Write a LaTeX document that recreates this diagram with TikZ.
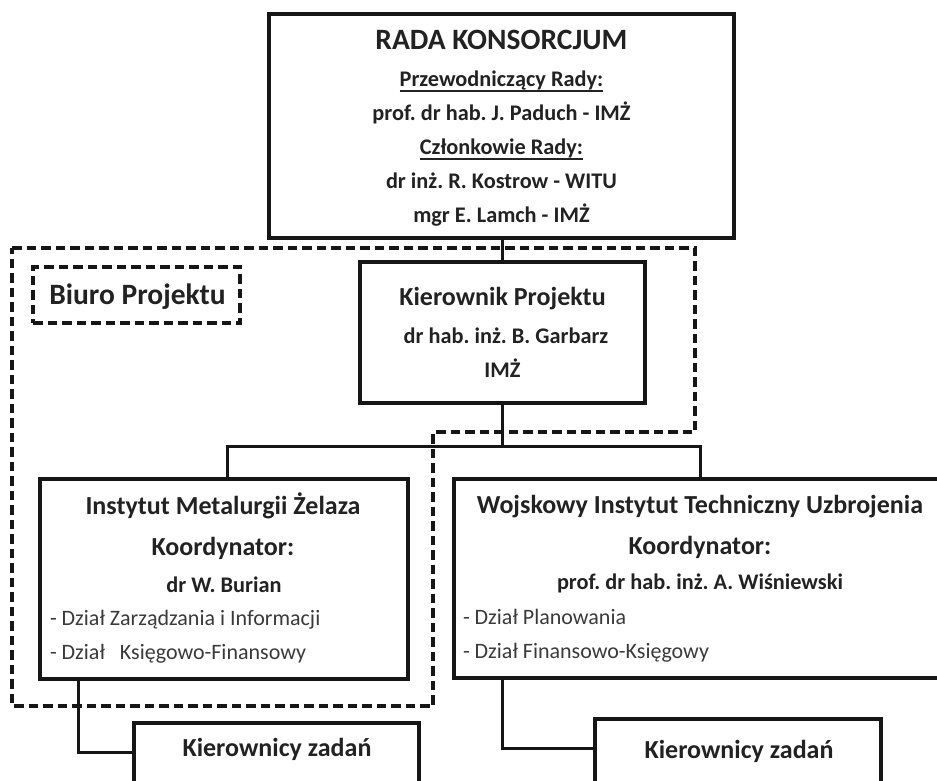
\documentclass[tikz,border=0pt]{standalone}
\usepackage{fontspec}
\setmainfont{Carlito}
\usetikzlibrary{shadows}
\definecolor{ink}{HTML}{222222}
\definecolor{ink2}{HTML}{3A3A3A}
\definecolor{lineink}{HTML}{161616}
\frenchspacing
\begin{document}
\begin{tikzpicture}[x=1pt,y=-1pt,
  box/.style={draw=lineink, line width=4.8pt, fill=white, rectangle, outer sep=0pt, inner sep=0pt, anchor=north west,
    drop shadow={shadow xshift=2pt, shadow yshift=-2pt, opacity=0.3, fill=black}},
  conn/.style={draw=lineink, line width=3pt},
  frame/.style={draw=lineink, line width=3.4pt, dash pattern=on 9.5pt off 5pt},
  txt/.style={inner sep=0pt, outer sep=0pt, anchor=base, text=ink},
  tA/.style={txt, font=\bfseries\fontsize{29.5}{34}\selectfont},
  tB/.style={txt, font=\bfseries\fontsize{26}{30}\selectfont},
  tC/.style={txt, font=\bfseries\fontsize{22.3}{26}\selectfont},
  tD/.style={txt, anchor=base west, text=ink2, font=\fontsize{22}{26}\selectfont},
  ul/.style={draw=ink, line width=1.6pt}
]
\useasboundingbox (0,0) rectangle (937,781);
\clip (0,0) rectangle (937,781);
\fill[white] (0,0) rectangle (937,781);

% dashed frames
\draw[frame] (12,248) -- (695,248) -- (695,432) -- (433,432) -- (433,706) -- (12,706) -- cycle;
\node[frame, rectangle, anchor=north west, outer sep=0pt, inner sep=0pt, minimum width=207pt, minimum height=56pt] (biuro) at (33,267) {};

% coordinates for connectors
\coordinate (busL) at (227,446);
\coordinate (busR) at (700,446);
\coordinate (t1) at (78,752);
\coordinate (t2) at (502,748);

% boxes
\node[box, minimum width=465pt, minimum height=224pt] (rada) at (269,14) {};
\node[box, minimum width=285pt, minimum height=141pt] (kier) at (360,262) {};
\node[box, minimum width=368pt, minimum height=200pt] (imz) at (40,479) {};
\node[box, minimum width=510pt, minimum height=199pt] (witu) at (454,479) {};
\node[box, minimum width=285pt, minimum height=80pt] (kz1) at (134,723) {};
\node[box, minimum width=286pt, minimum height=80pt] (kz2) at (595,719) {};

% connectors
\draw[conn] (kier.north |- rada.south) -- (kier.north);
\draw[conn] (kier.south) -- (kier.south |- busL);
\draw[conn] (imz.north -| busL) -- (busL) -- (busR) -- (witu.north -| busR);
\draw[conn] (imz.south -| t1) -- (t1) -- (kz1.west |- t1);
\draw[conn] (witu.south -| t2) -- (t2) -- (kz2.west |- t2);

% texts
\node[tA] (biurot) at (137.5,304) {Biuro Projektu};

\node[tA] (r1) at (501.5,50) {RADA KONSORCJUM};
\node[tC] (r2) at (501.5,87) {Przewodniczący Rady:};
\node[tC] (r3) at (501.5,121) {prof. dr hab. J. Paduch - IMŻ};
\node[tC] (r4) at (501.5,155) {Członkowie Rady:};
\node[tC] (r5) at (501.5,189) {dr inż. R. Kostrow - WITU};
\node[tC] (r6) at (501.5,222) {mgr E. Lamch - IMŻ};
\draw[ul] ([yshift=-4pt]r2.base west) -- ([yshift=-4pt]r2.base east);
\draw[ul] ([yshift=-4pt]r4.base west) -- ([yshift=-4pt]r4.base east);

\node[tB] (k1) at (502.5,305) {Kierownik Projektu};
\node[tC] (k2) at (506,343) {dr hab. inż. B. Garbarz};
\node[tC] (k3) at (502.5,377) {IMŻ};

\node[tB] (i1) at (223,514) {Instytut Metalurgii Żelaza};
\node[tB] (i2) at (223,555) {Koordynator:};
\node[tC] (i3) at (224,592) {dr W. Burian};
\node[tD] (i4) at (50,625) {- Dział Zarządzania i Informacji};
\node[tD] (i5) at (50,659) {- Dział\hspace{15pt}Księgowo-Finansowy};

\node[tB] (w1) at (700,513) {Wojskowy Instytut Techniczny Uzbrojenia};
\node[tB] (w2) at (700,554) {Koordynator:};
\node[tC] (w3) at (700,589) {prof. dr hab. inż. A. Wiśniewski};
\node[tD] (w4) at (463,624) {- Dział Planowania};
\node[tD] (w5) at (463,658) {- Dział Finansowo-Księgowy};

\node[tB] (z1) at (277,756) {Kierownicy zadań};
\node[tB] (z2) at (739,758) {Kierownicy zadań};
\end{tikzpicture}
\end{document}
